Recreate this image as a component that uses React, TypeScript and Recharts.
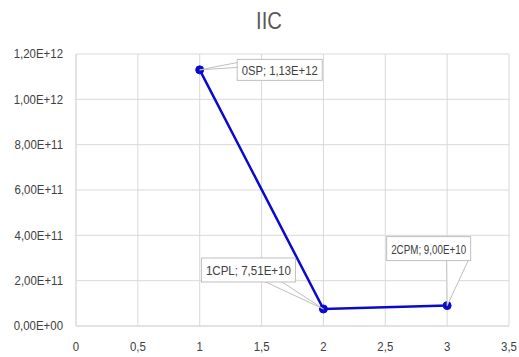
import React from 'react';
import { LineChart, Line, XAxis, YAxis, CartesianGrid, LabelList } from 'recharts';

// values
const pointNames = ['0SP', '1CPL', '2CPM'];
const xValues = [1, 2, 3];
const yValues = [1.13e12, 7.51e10, 9.0e10];
const xTicks = [0, 0.5, 1, 1.5, 2, 2.5, 3, 3.5];
const yTicks = [0, 2e11, 4e11, 6e11, 8e11, 1e12, 1.2e12];

const data = pointNames.map((name, i) => ({ name, x: xValues[i], y: yValues[i] }));

// callout boxes, relative to their point (layout only)
const callouts = [
  { dx: 37.5, dy: -10.5, w: 85, h: 21, side: 'left', a: 3, b: 8 },
  { dx: -122, dy: -51, w: 94, h: 24, side: 'bottom', a: 62, b: 79 },
  { dx: -60.5, dy: -69, w: 84, h: 24, side: 'bottom', a: 60, b: 82 },
];

const FONT = '"Liberation Sans", Arial, sans-serif';
const BLUE = '#0a0acd';
const TEXT = '#404040';
const NARROW = 0.88; // the original uses a narrow face, squeeze the text horizontally

const sci = (v: number) => {
  const [m, e] = v.toExponential(2).split('e');
  const sign = e[0] === '-' ? '-' : '+';
  const digits = e.replace(/^[+-]/, '').padStart(2, '0');
  return m.replace('.', ',') + 'E' + sign + digits;
};

const dec = (v: number) => String(v).replace('.', ',');

// narrow text helper
const NText = ({ x, y, anchor, size, fill, children, baseline }: any) => (
  <text
    transform={`translate(${x},${y}) scale(${NARROW},1)`}
    textAnchor={anchor}
    dominantBaseline={baseline || 'central'}
    fontFamily={FONT}
    fontSize={size}
    fill={fill}
  >
    {children}
  </text>
);

const XTick = (props: any) => {
  const { x, y, payload } = props;
  return (
    <NText x={x} y={y + 7} anchor="middle" size={13} fill={TEXT}>
      {dec(payload.value)}
    </NText>
  );
};

const YTick = (props: any) => {
  const { x, y, payload } = props;
  return (
    <NText x={x} y={y} anchor="end" size={13} fill={TEXT}>
      {sci(payload.value)}
    </NText>
  );
};

const Callout = (props: any) => {
  const { x, y, index } = props;
  const c = callouts[index];
  if (!c || x == null || y == null) return null;
  const bx = x + c.dx;
  const by = y + c.dy;
  let pts = '';
  if (c.side === 'left') {
    pts = `${x},${y} ${bx + 1},${by + c.a} ${bx + 1},${by + c.b}`;
  } else {
    pts = `${x},${y} ${bx + c.a},${by + c.h - 1} ${bx + c.b},${by + c.h - 1}`;
  }
  return (
    <g>
      <polygon points={pts} fill="#ffffff" stroke="#bfbfbf" strokeWidth={1} />
      <rect x={bx} y={by} width={c.w} height={c.h} fill="#ffffff" stroke="#bfbfbf" strokeWidth={1} />
      <text
        x={bx + 4.5}
        y={by + c.h / 2 + 0.5}
        textLength={c.w - 9}
        lengthAdjust="spacingAndGlyphs"
        dominantBaseline="central"
        fontFamily={FONT}
        fontSize={13}
        fill={TEXT}
      >
        {`${pointNames[index]}; ${sci(yValues[index])}`}
      </text>
    </g>
  );
};

export default function App() {
  return (
    <div style={{ position: 'absolute', left: 0, top: 0, width: 519, height: 357, background: '#fff' }}>
      <svg width={519} height={40} style={{ position: 'absolute', left: 0, top: 0 }}>
        <NText x={269} y={29} anchor="middle" size={23} fill="#595959" baseline="alphabetic">
          IIC
        </NText>
      </svg>
      <LineChart
        width={519}
        height={357}
        data={data}
        margin={{ top: 54, right: 10, bottom: 0, left: 0 }}
        style={{ position: 'absolute', left: 0, top: 0 }}
      >
        <CartesianGrid stroke="#d9d9d9" strokeWidth={1} />
        <XAxis
          dataKey="x"
          type="number"
          domain={[0, 3.5]}
          ticks={xTicks}
          height={31}
          tickLine={false}
          tickSize={0}
          tickMargin={14}
          axisLine={{ stroke: '#d9d9d9' }}
          tick={<XTick />}
          interval={0}
        />
        <YAxis
          type="number"
          domain={[0, 1.2e12]}
          ticks={yTicks}
          width={76}
          tickLine={false}
          tickSize={0}
          tickMargin={13}
          axisLine={{ stroke: '#d9d9d9' }}
          tick={<YTick />}
          interval={0}
        />
        <Line
          dataKey="y"
          stroke={BLUE}
          strokeWidth={2.5}
          dot={{ r: 4, fill: BLUE, stroke: BLUE, strokeWidth: 1 }}
          isAnimationActive={false}
        >
          <LabelList dataKey="y" content={(p: any) => <Callout {...p} />} />
        </Line>
      </LineChart>
    </div>
  );
}
